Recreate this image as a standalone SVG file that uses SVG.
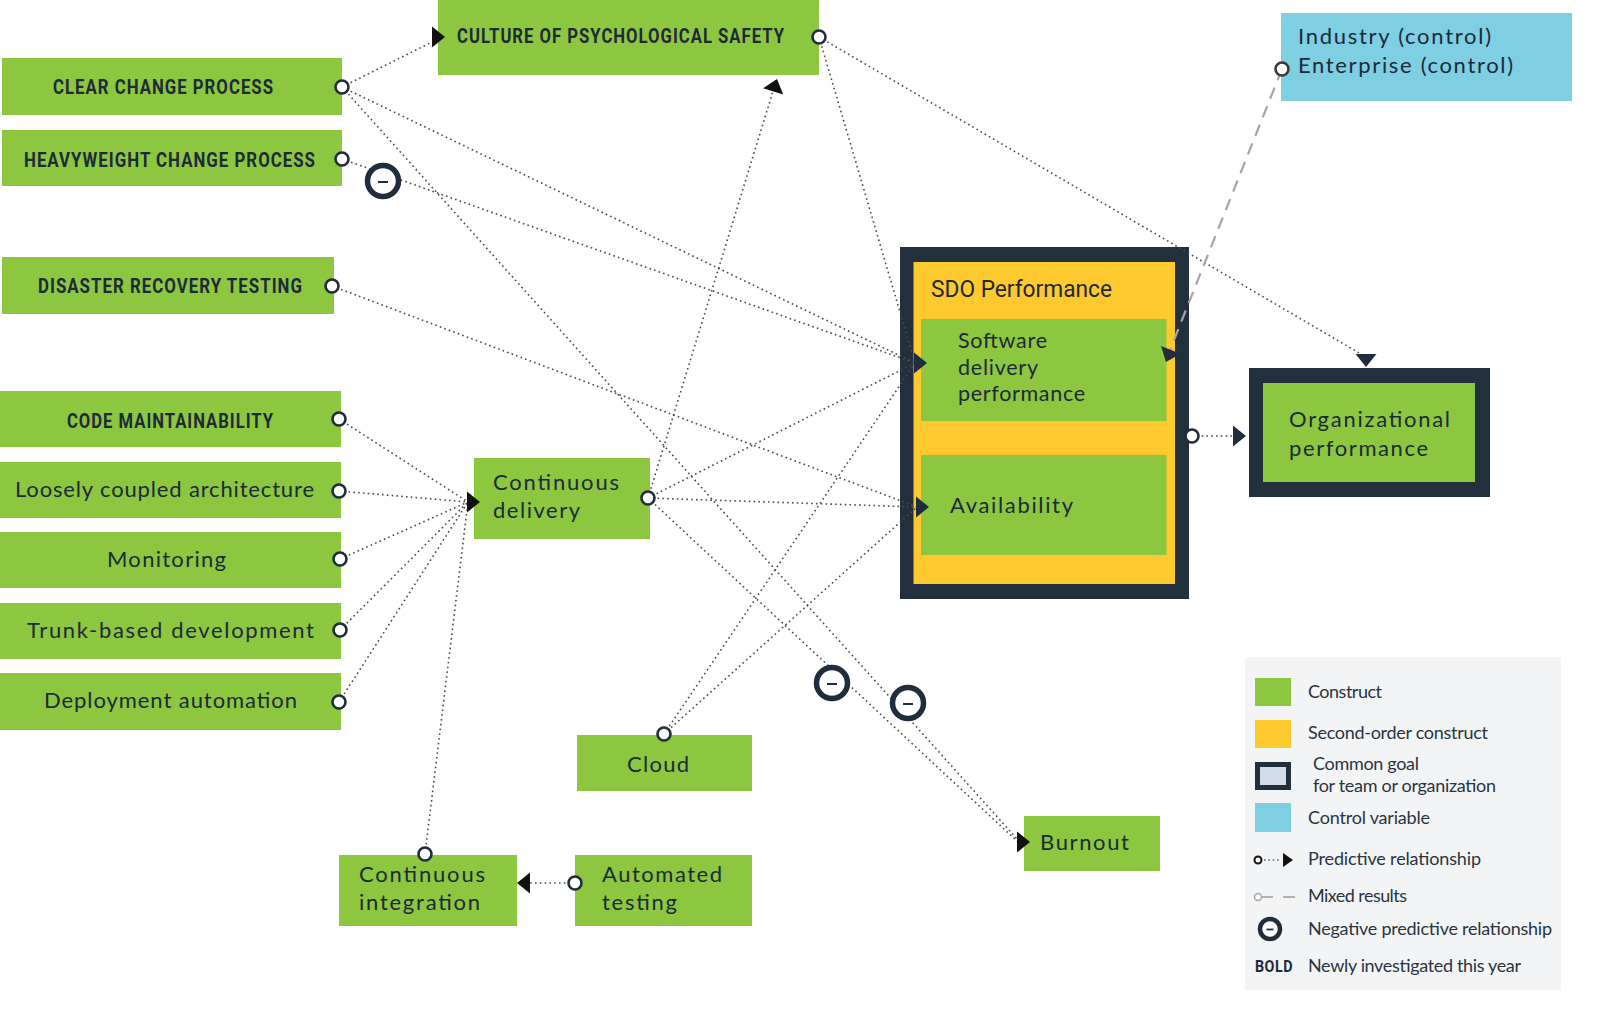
<svg xmlns="http://www.w3.org/2000/svg" xmlns:xlink="http://www.w3.org/1999/xlink" width="1600" height="1017" viewBox="0 0 1600 1017">
<style>
.g{fill:#8dc63f}
.y{fill:#fec92f}
.k{fill:#22303e}
.c{fill:#7dcfe1}
.lb{font-family:Roboto,"Liberation Sans",sans-serif;font-weight:700;font-size:20px;letter-spacing:1.2px;fill:#1c2a3a}
.t{font-family:Lato,"Liberation Sans",sans-serif;font-size:22px;fill:#1c2a3a}
.cd{font-family:Roboto,"Liberation Sans",sans-serif;font-size:24px;fill:#1c2a3a}
.lg{font-family:Lato,"Liberation Sans",sans-serif;font-size:18px;fill:#2a3440}
.d{fill:none;stroke:#4a4a4a;stroke-width:1.6;stroke-dasharray:1.6 3.2}
.m{fill:none;stroke:#a8a4a4;stroke-width:2.2;stroke-dasharray:12 8}
.p{fill:#fff;stroke:#1f2d3d;stroke-width:2.6}
.n{fill:#fff;stroke:#1f2d3d;stroke-width:5.5}
.ms{stroke:#1f2d3d;stroke-width:2}
.ab{fill:#111}
.an{fill:#1f2d3d}
</style>
<defs>
<path id="ah" d="M0,0 L-13,-10.5 L-13,10.5 Z"/>
</defs>
<rect width="1600" height="1017" fill="#fff"/>

<g id="node-clear-change">
<rect class="g" x="2" y="58" width="340" height="57"/>
<text class="lb" x="53" y="94" textLength="221" lengthAdjust="spacingAndGlyphs">CLEAR CHANGE PROCESS</text>
</g>
<g id="node-heavyweight">
<rect class="g" x="2" y="130" width="340" height="56"/>
<text class="lb" x="24" y="167" textLength="292" lengthAdjust="spacingAndGlyphs">HEAVYWEIGHT CHANGE PROCESS</text>
</g>
<g id="node-disaster">
<rect class="g" x="2" y="257" width="332" height="57"/>
<text class="lb" x="38" y="293" textLength="265" lengthAdjust="spacingAndGlyphs">DISASTER RECOVERY TESTING</text>
</g>
<g id="node-culture">
<rect class="g" x="438" y="0" width="381" height="75"/>
<text class="lb" x="457" y="43" textLength="328" lengthAdjust="spacingAndGlyphs">CULTURE OF PSYCHOLOGICAL SAFETY</text>
</g>
<g id="node-code">
<rect class="g" x="0" y="391" width="341" height="56"/>
<text class="lb" x="67" y="428" textLength="207" lengthAdjust="spacingAndGlyphs">CODE MAINTAINABILITY</text>
</g>
<g id="node-loosely">
<rect class="g" x="0" y="462" width="341" height="56"/>
<text class="t" x="15" y="497" textLength="299">Loosely coupled architecture</text>
</g>
<g id="node-monitoring">
<rect class="g" x="0" y="532" width="341" height="56"/>
<text class="t" x="107" y="567" textLength="119">Monitoring</text>
</g>
<g id="node-trunk">
<rect class="g" x="0" y="603" width="341" height="56"/>
<text class="t" x="27" y="638" textLength="287">Trunk-based development</text>
</g>
<g id="node-deploy">
<rect class="g" x="0" y="673" width="341" height="57"/>
<text class="t" x="44" y="708" textLength="253">Deployment automation</text>
</g>
<g id="node-cd">
<rect class="g" x="474" y="458" width="176" height="81"/>
<text class="t" x="493" y="490" textLength="126">Continuous</text>
<text class="t" x="493" y="518" textLength="87">delivery</text>
</g>
<g id="node-cloud">
<rect class="g" x="577" y="735" width="175" height="56"/>
<text class="t" x="627" y="772" textLength="62">Cloud</text>
</g>
<g id="node-ci">
<rect class="g" x="339" y="855" width="178" height="71"/>
<text class="t" x="359" y="882" textLength="126">Continuous</text>
<text class="t" x="359" y="910" textLength="121">integration</text>
</g>
<g id="node-at">
<rect class="g" x="575" y="855" width="177" height="71"/>
<text class="t" x="602" y="882" textLength="120">Automated</text>
<text class="t" x="602" y="910" textLength="75">testing</text>
</g>
<g id="node-burnout">
<rect class="g" x="1024" y="816" width="136" height="55"/>
<text class="t" x="1040" y="850" textLength="89">Burnout</text>
</g>
<g id="node-sdo">
<rect class="k" x="900" y="247" width="289" height="352"/>
<rect class="y" x="913.5" y="262" width="261.5" height="322"/>
<text class="cd" x="931" y="297" textLength="181" lengthAdjust="spacingAndGlyphs">SDO Performance</text>
<g id="node-sdp">
<rect class="g" x="921" y="319" width="245.5" height="102"/>
<text class="t" style="font-size:21.5px" x="958" y="348" textLength="89">Software</text>
<text class="t" style="font-size:21.5px" x="958" y="375" textLength="80">delivery</text>
<text class="t" style="font-size:21.5px" x="958" y="401" textLength="127">performance</text>
</g>
<g id="node-availability">
<rect class="g" x="921" y="455" width="245.5" height="100"/>
<text class="t" x="950" y="513" textLength="123">Availability</text>
</g>
</g>
<g id="node-org">
<rect class="k" x="1249" y="368" width="241" height="129"/>
<rect class="g" x="1263" y="383" width="212" height="99"/>
<text class="t" x="1289" y="427" textLength="161">Organizational</text>
<text class="t" x="1289" y="456" textLength="139">performance</text>
</g>
<g id="node-industry">
<rect class="c" x="1281" y="13" width="291" height="88"/>
<text class="t" x="1298" y="44" textLength="193">Industry (control)</text>
<text class="t" x="1298" y="73" textLength="215">Enterprise (control)</text>
</g>

<g id="connectors">
<line class="d" x1="342" y1="87" x2="436" y2="40"/>
<line class="d" x1="342" y1="87" x2="915" y2="363"/>
<line class="d" x1="342" y1="87" x2="1018" y2="840"/>
<line class="d" x1="342" y1="159" x2="915" y2="363"/>
<line class="d" x1="332" y1="286" x2="917" y2="507"/>
<line class="d" x1="819" y1="37" x2="915" y2="363"/>
<line class="d" x1="819" y1="37" x2="1366" y2="357"/>
<line class="d" x1="648" y1="498" x2="774" y2="88"/>
<line class="d" x1="648" y1="498" x2="915" y2="363"/>
<line class="d" x1="648" y1="498" x2="917" y2="507"/>
<line class="d" x1="648" y1="498" x2="1018" y2="842"/>
<line class="d" x1="664" y1="734" x2="915" y2="363"/>
<line class="d" x1="664" y1="734" x2="917" y2="507"/>
<line class="d" x1="339" y1="419" x2="468" y2="502"/>
<line class="d" x1="339" y1="491" x2="468" y2="502"/>
<line class="d" x1="340" y1="559" x2="468" y2="502"/>
<line class="d" x1="340" y1="630" x2="468" y2="502"/>
<line class="d" x1="339" y1="702" x2="468" y2="502"/>
<line class="d" x1="425" y1="854" x2="468" y2="502"/>
<line class="d" x1="575" y1="883" x2="526" y2="883"/>
<line class="d" x1="1192" y1="436" x2="1234" y2="436"/>
<line class="m" x1="1282" y1="69" x2="1170" y2="350"/>

<use xlink:href="#ah" class="ab" transform="translate(445,37)"/>
<use xlink:href="#ah" class="ab" transform="translate(777,79) rotate(-72.9)"/>
<use xlink:href="#ah" class="ab" transform="translate(480,502)"/>
<use xlink:href="#ah" class="ab" transform="translate(1030,842)"/>
<use xlink:href="#ah" class="ab" transform="translate(517,883) rotate(180)"/>
<use xlink:href="#ah" class="an" transform="translate(927,363)"/>
<use xlink:href="#ah" class="an" transform="translate(929,507)"/>
<use xlink:href="#ah" class="an" transform="translate(1166,362) rotate(111.7)"/>
<use xlink:href="#ah" class="an" transform="translate(1366,367) rotate(90)"/>
<use xlink:href="#ah" class="an" transform="translate(1246,436)"/>

<circle class="p" cx="342" cy="87" r="6.5"/>
<circle class="p" cx="342" cy="159" r="6.5"/>
<circle class="p" cx="332" cy="286" r="6.5"/>
<circle class="p" cx="819" cy="37" r="6.5"/>
<circle class="p" cx="339" cy="419" r="6.5"/>
<circle class="p" cx="339" cy="491" r="6.5"/>
<circle class="p" cx="340" cy="559" r="6.5"/>
<circle class="p" cx="340" cy="630" r="6.5"/>
<circle class="p" cx="339" cy="702" r="6.5"/>
<circle class="p" cx="648" cy="498" r="6.5"/>
<circle class="p" cx="664" cy="734" r="6.5"/>
<circle class="p" cx="425" cy="854" r="6.5"/>
<circle class="p" cx="575" cy="883" r="6.5"/>
<circle class="p" cx="1192" cy="436" r="6.5"/>
<circle class="p" cx="1282" cy="69" r="6.5" style="stroke:#3a3a3a"/>

<g id="neg-heavyweight"><circle class="n" cx="383" cy="181" r="15.5"/><line class="ms" x1="378" y1="182" x2="388" y2="182"/></g>
<g id="neg-cd-burnout"><circle class="n" cx="832" cy="683" r="15.5"/><line class="ms" x1="827" y1="684" x2="837" y2="684"/></g>
<g id="neg-ccp-burnout"><circle class="n" cx="908" cy="703" r="15.5"/><line class="ms" x1="903" y1="704" x2="913" y2="704"/></g>
</g>

<g id="legend">
<rect x="1245" y="657" width="316" height="333" fill="#f3f4f6"/>
<rect class="g" x="1255" y="678" width="36" height="28"/>
<text class="lg" x="1308" y="698" textLength="74">Construct</text>
<rect class="y" x="1255" y="720" width="36" height="28"/>
<text class="lg" x="1308" y="739" textLength="180">Second-order construct</text>
<rect x="1257.5" y="764.5" width="31" height="23" fill="#d2dde7" stroke="#22303e" stroke-width="5"/>
<text class="lg" x="1313" y="770" textLength="106">Common goal</text>
<text class="lg" x="1313" y="792" textLength="183">for team or organization</text>
<rect class="c" x="1255" y="803" width="36" height="29"/>
<text class="lg" x="1308" y="824" textLength="122">Control variable</text>
<circle cx="1258" cy="860" r="3.5" fill="#fff" stroke="#111" stroke-width="2"/>
<line x1="1264" y1="860" x2="1280" y2="860" stroke="#555" stroke-width="1.4" stroke-dasharray="1.4 3"/>
<path d="M1293,860 L1283,853 L1283,867 Z" fill="#111"/>
<text class="lg" x="1308" y="865" textLength="173">Predictive relationship</text>
<circle cx="1258" cy="897" r="3.5" fill="#fff" stroke="#aaa" stroke-width="1.6"/>
<line x1="1262" y1="897" x2="1273" y2="897" stroke="#aaa" stroke-width="1.8"/>
<line x1="1283" y1="897" x2="1295" y2="897" stroke="#aaa" stroke-width="1.8"/>
<text class="lg" x="1308" y="902" textLength="99">Mixed results</text>
<circle cx="1270" cy="929" r="10" fill="#fff" stroke="#1f2d3d" stroke-width="4.5"/>
<line x1="1266.5" y1="929.5" x2="1273.5" y2="929.5" stroke="#1f2d3d" stroke-width="1.8"/>
<text class="lg" x="1308" y="935" textLength="244">Negative predictive relationship</text>
<text class="lb" style="font-size:17px;letter-spacing:0.6px" x="1255" y="972" textLength="38" lengthAdjust="spacingAndGlyphs">BOLD</text>
<text class="lg" x="1308" y="972" textLength="213">Newly investigated this year</text>
</g>
</svg>
